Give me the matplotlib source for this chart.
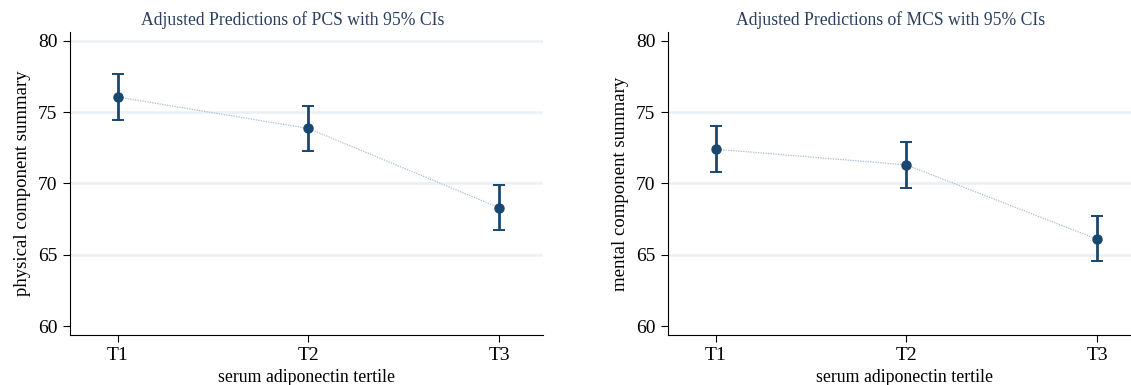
import matplotlib.pyplot as plt

# tertile categories
tertiles = ["T1", "T2", "T3"]

# PCS predictions and 95% CIs
pcs_mean = [76.05, 73.85, 68.3]
pcs_low = [74.45, 72.25, 66.75]
pcs_high = [77.65, 75.45, 69.9]

# MCS predictions and 95% CIs
mcs_mean = [72.4, 71.3, 66.1]
mcs_low = [70.8, 69.7, 64.55]
mcs_high = [74.0, 72.9, 67.7]

yticks = [60, 65, 70, 75, 80]

plt.rcParams['font.family'] = ['Liberation Serif', 'DejaVu Serif']

navy = '#1a476f'
grid_col = '#eaf0f3'


def draw_panel(ax, mean, low, high, title, ylabel, grid_vals):
    x = [1, 2, 3]
    for g in grid_vals:
        ax.axhline(g, color=grid_col, lw=1.8, zorder=0)
    ax.plot(x, mean, color='#a9bccd', lw=0.9, ls=(0, (1, 1)), zorder=1)
    yerr = [[m - l for m, l in zip(mean, low)], [h - m for m, h in zip(mean, high)]]
    ax.errorbar(x, mean, yerr=yerr, fmt='o', color=navy, ms=6.5, elinewidth=2,
                capsize=4, capthick=1.4, zorder=3)
    ax.set_xlim(0.75, 3.23)
    ax.set_ylim(59.4, 80.6)
    ax.set_xticks(x)
    ax.set_xticklabels(tertiles)
    ax.set_yticks(yticks)
    ax.tick_params(axis='both', labelsize=14, length=5, width=0.8, direction='out', pad=4)
    ax.spines['top'].set_visible(False)
    ax.spines['right'].set_visible(False)
    ax.set_title(title, fontsize=12.7, color='#2a3f5f', pad=5, x=0.47)
    ax.set_xlabel('serum adiponectin tertile', fontsize=12.8, labelpad=3)
    ax.set_ylabel(ylabel, fontsize=13.5, labelpad=5)


fig = plt.figure(figsize=(11.31, 3.85), dpi=100)
ax1 = fig.add_axes([70 / 1131, 1 - 335 / 385, 473 / 1131, 303 / 385])
ax2 = fig.add_axes([668 / 1131, 1 - 335 / 385, 473 / 1131, 303 / 385])

draw_panel(ax1, pcs_mean, pcs_low, pcs_high,
           'Adjusted Predictions of PCS with 95% CIs', 'physical component summary',
           [65, 70, 75, 80])
draw_panel(ax2, mcs_mean, mcs_low, mcs_high,
           'Adjusted Predictions of MCS with 95% CIs', 'mental component summary',
           [65, 70, 75])

fig.savefig('out.png', dpi=100)
